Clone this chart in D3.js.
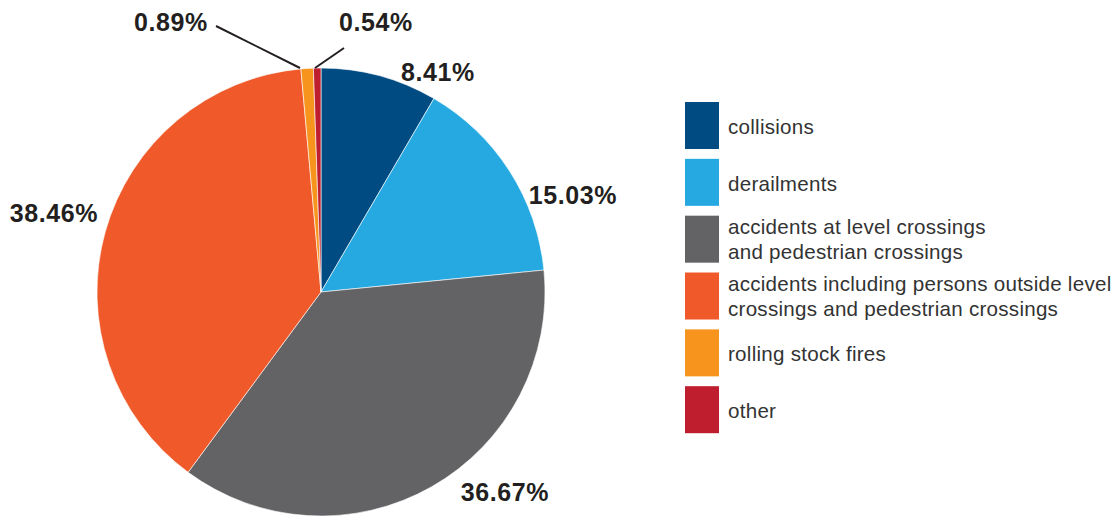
<!DOCTYPE html>
<html><head><meta charset="utf-8">
<script src="https://cdn.jsdelivr.net/npm/d3@7"></script>
<style>
html,body{margin:0;padding:0;background:#fff;}
svg{display:block;}
</style></head>
<body>
<svg id="chart" width="1117" height="516"></svg>
<script>
const categories = ["collisions", "derailments", "accidents at level crossings and pedestrian crossings", "accidents including persons outside level crossings and pedestrian crossings", "rolling stock fires", "other"];
const legendLines = [["collisions"], ["derailments"], ["accidents at level crossings", "and pedestrian crossings"], ["accidents including persons outside level", "crossings and pedestrian crossings"], ["rolling stock fires"], ["other"]];
const values = [8.41, 15.03, 36.67, 38.46, 0.89, 0.54];
const valueLabels = ["8.41%", "15.03%", "36.67%", "38.46%", "0.89%", "0.54%"];
const colors = ["#004b82", "#26a9e0", "#636366", "#f05a2a", "#f7941e", "#be1e2d"];

// layout (not data)
const cx = 321, cy = 292, R = 224;
const labelPos = [[438, 81], [573, 204], [505, 501], [54, 222], [171, 31], [376, 31]];
const leaders = {4: [[216, 26], [300, 68]], 5: [[344, 48], [315, 68]]};

const svg = d3.select("#chart");
const pie = d3.pie().sort(null).value(d => d).startAngle(0).endAngle(2 * Math.PI);
const arc = d3.arc().innerRadius(0).outerRadius(R);
const arcs = pie(values);

const g = svg.append("g").attr("transform", `translate(${cx},${cy})`);
g.selectAll("path").data(arcs).join("path")
  .attr("d", arc)
  .attr("fill", (d, i) => colors[i])
  .attr("stroke", "#fff").attr("stroke-width", 0.6);

// leader lines
Object.entries(leaders).forEach(([i, pts]) => {
  svg.append("path").attr("d", d3.line()(pts))
    .attr("stroke", "#231f20").attr("stroke-width", 2).attr("fill", "none");
});

svg.selectAll("text.val").data(valueLabels).join("text")
  .attr("class", "val")
  .attr("x", (d, i) => labelPos[i][0]).attr("y", (d, i) => labelPos[i][1])
  .attr("text-anchor", "middle")
  .attr("font-family", "Liberation Sans, Arial, sans-serif")
  .attr("font-weight", "bold").attr("font-size", 25).attr("letter-spacing", 0.6)
  .attr("fill", "#231f20")
  .text(d => d);

// legend
const lg = svg.append("g");
const ly = d3.scaleBand().domain(d3.range(categories.length)).range([102, 433.2]).paddingInner(0.173).paddingOuter(0);
categories.forEach((c, i) => {
  const y0 = ly(i);
  lg.append("rect").attr("x", 685).attr("y", y0).attr("width", 34).attr("height", ly.bandwidth()).attr("fill", colors[i]);
  const lines = legendLines[i];
  const t = lg.append("text")
    .attr("font-family", "Liberation Sans, Arial, sans-serif")
    .attr("font-size", 20.6).attr("fill", "#333333").attr("letter-spacing", 0.25);
  const mid = y0 + ly.bandwidth() / 2;
  const lh = 25;
  const off = lines.length === 1 ? 8.5 : 7;
  lines.forEach((l, k) => {
    t.append("tspan").attr("x", 728)
      .attr("y", mid + off + (k - (lines.length - 1) / 2) * lh)
      .text(l);
  });
});
</script>
</body></html>
